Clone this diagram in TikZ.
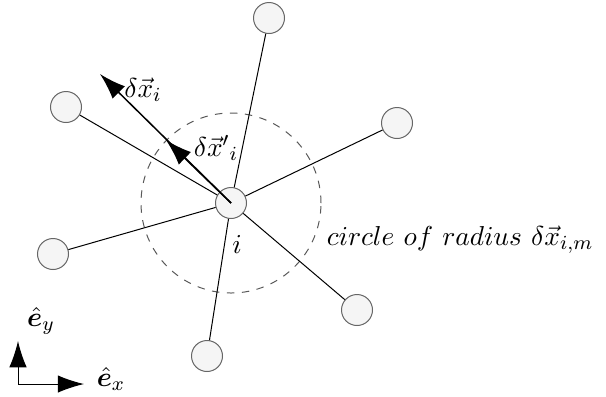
\documentclass[tikz,border=0pt]{standalone}
\usepackage{amsmath,amssymb,bm}
\usetikzlibrary{arrows.meta}
\tikzset{
  particle/.style={circle,draw=gray!80!black,fill=gray!8,minimum size=12.4pt,inner sep=0pt},
  bond/.style={thin},
  vecarrow/.style={-{Latex[length=10.5pt,width=7pt]},semithick}
}
\begin{document}
\begin{tikzpicture}[x=0.4pt,y=-0.4pt,font=\fontsize{11.2}{13}\selectfont]
\useasboundingbox (0,0) rectangle (606,396);
\draw[dashed,gray!70!black] (231,203) circle (36pt);
\node[particle] (i) at (231,203) {};
\node[particle] (n1) at (269,18) {};
\node[particle] (n2) at (66,107) {};
\node[particle] (n3) at (397,123) {};
\node[particle] (n4) at (53,254) {};
\node[particle] (n5) at (357,310) {};
\node[particle] (n6) at (207,356) {};
\foreach \n in {n1,n2,n3,n4,n5,n6}
  \draw[bond] (i) -- (\n);
\coordinate (dx) at (100,74);
\coordinate (dxp) at (166,140);
\draw[vecarrow] (i.center) -- (dx);
\draw[vecarrow] (i.center) -- (dxp);
\node (ldx) at (143,90) {$\delta\vec{x}_i$};
\node (ldxp) at (216,148) {$\delta\vec{x}'{}_i$};
\node (li) at (237,244) {$i$};
\node[anchor=west] (lcirc) at (318,240) {$circle\ of\ radius\ \delta\vec{x}_{i,m}$};
% unit vectors
\coordinate (o) at (18,384);
\coordinate (ey) at (18,341);
\coordinate (ex) at (84,384);
\draw[vecarrow,thin] (o) -- (ey);
\draw[vecarrow,thin] (o) -- (ex);
\node (ley) at (41,321) {$\hat{\bm{e}}_y$};
\node (lex) at (111,379) {$\hat{\bm{e}}_x$};
\end{tikzpicture}
\end{document}
